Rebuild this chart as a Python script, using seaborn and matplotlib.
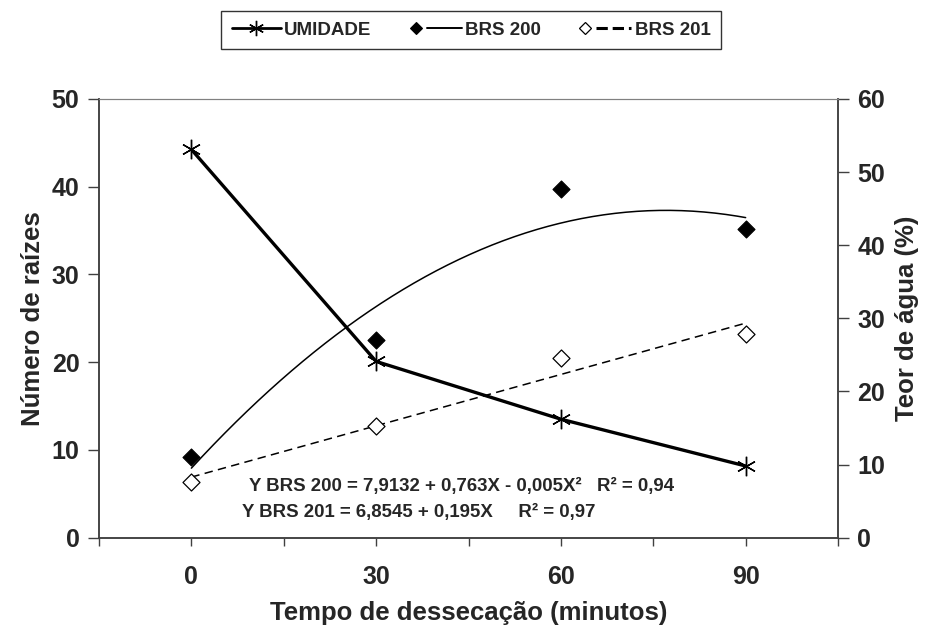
import numpy as np
import pandas as pd
import matplotlib
matplotlib.use("Agg")
import matplotlib.pyplot as plt
import seaborn as sns
from matplotlib.lines import Line2D
from matplotlib.legend_handler import HandlerBase

# ---- data ----
tempo = [0, 30, 60, 90]
umidade = [53.1, 24.1, 16.2, 9.8]          # right axis, Teor de água (%)
brs200 = [9.2, 22.5, 39.7, 35.2]           # left axis, Número de raízes
brs201 = [6.3, 12.7, 20.5, 23.2]
xticks = [0, 30, 60, 90]
eq200 = "Y BRS 200 = 7,9132 + 0,763X - 0,005X²   R² = 0,94"
eq201 = "Y BRS 201 = 6,8545 + 0,195X     R² = 0,97"

sns.set_style("white")
plt.rcParams["font.family"] = ["Liberation Sans", "DejaVu Sans"]
plt.rcParams["font.weight"] = "bold"

fig = plt.figure(figsize=(9.26, 6.37), dpi=100)
ax = fig.add_axes([0.1069, 0.156, 0.7981, 0.6886])
ax2 = ax.twinx()

df = pd.DataFrame({"tempo": tempo, "umidade": umidade,
                   "brs200": brs200, "brs201": brs201})

# trend lines fitted from the data
xs = np.linspace(0, 90, 200)
c200 = np.polyfit(tempo, brs200, 2)
c201 = np.polyfit(tempo, brs201, 1)
fit = pd.DataFrame({"x": xs, "f200": np.polyval(c200, xs), "f201": np.polyval(c201, xs)})

sns.lineplot(data=fit, x="x", y="f200", ax=ax, color="black", lw=1.1)
sns.lineplot(data=fit, x="x", y="f201", ax=ax, color="black", lw=1.1,
             linestyle=(0, (5.5, 3.5)))
sns.scatterplot(data=df, x="tempo", y="brs200", ax=ax, marker="D", s=75,
                color="black", edgecolor="black", linewidth=0.8, zorder=5)
sns.scatterplot(data=df, x="tempo", y="brs201", ax=ax, marker="D", s=75,
                facecolor="white", edgecolor="black", linewidth=0.9, zorder=5)
sns.lineplot(data=df, x="tempo", y="umidade", ax=ax2, color="black", lw=2.4,
             marker=(6, 2, 0), markersize=14, markeredgewidth=1.0,
             markeredgecolor="black")

ax.set_xlim(-15, 105)
ax.set_ylim(0, 50)
ax2.set_ylim(0, 60)
ax.set_xticks(xticks)
ax.set_xticks([-15, 15, 45, 75, 105], minor=True)
ax.set_yticks(range(0, 51, 10))
ax2.set_yticks(range(0, 61, 10))

for a in (ax, ax2):
    for s in a.spines.values():
        s.set_color("#404040")
        s.set_linewidth(1.1)
    a.spines["top"].set_color("#808080")
    a.spines["top"].set_linewidth(0.8)
ax.tick_params(axis="x", which="both", direction="out", length=6, width=1,
               color="#404040", labelsize=18, pad=14, bottom=True)
ax.tick_params(axis="y", direction="out", length=8, width=1, color="#404040",
               labelsize=18, pad=6, left=True)
ax2.tick_params(axis="y", direction="out", length=8, width=1, color="#404040",
                labelsize=18, pad=6, right=True)
for lab in ax.get_xticklabels() + ax.get_yticklabels() + ax2.get_yticklabels():
    lab.set_fontweight("bold")

ax.set_xlabel("Tempo de dessecação (minutos)", fontsize=18.5, fontweight="bold", labelpad=8)
ax.set_ylabel("Número de raízes", fontsize=18.5, fontweight="bold", labelpad=5)
ax2.set_ylabel("Teor de água (%)", fontsize=18.5, fontweight="bold", labelpad=7)

ax.text(9.4, 5.8, eq200, fontsize=13.4, fontweight="bold", va="center", ha="left")
ax.text(8.3, 2.9, eq201, fontsize=13.4, fontweight="bold", va="center", ha="left")


class MarkerLineHandler(HandlerBase):
    def create_artists(self, legend, orig_handle, xdescent, ydescent, width,
                       height, fontsize, trans):
        mk, ln = orig_handle
        y = height / 2 - ydescent
        m = Line2D([width * 0.06], [y], marker=mk.get_marker(), markersize=mk.get_markersize(),
                   markerfacecolor=mk.get_markerfacecolor(), markeredgecolor="black",
                   markeredgewidth=mk.get_markeredgewidth(), linestyle="none", transform=trans)
        l = Line2D([width * 0.28 - xdescent, width - xdescent], [y, y], color="black",
                   lw=ln.get_linewidth(), linestyle=ln.get_linestyle(), transform=trans)
        return [m, l]


h_um = Line2D([], [], color="black", lw=2.0, marker=(6, 2, 0), markersize=11,
              markeredgewidth=1.0)
h200 = (Line2D([], [], marker="D", markersize=6, markerfacecolor="black",
               markeredgewidth=0.8, linestyle="none"),
        Line2D([], [], color="black", lw=1.4))
h201 = (Line2D([], [], marker="D", markersize=6, markerfacecolor="white",
               markeredgewidth=0.9, linestyle="none"),
        Line2D([], [], color="black", lw=2.2, linestyle=(0, (3.5, 2.5))))
leg = fig.legend([h_um, h200, h201], ["UMIDADE", "BRS 200", "BRS 201"],
                 handler_map={tuple: MarkerLineHandler()},
                 loc="center", bbox_to_anchor=(0.509, 0.953), ncol=3,
                 frameon=True, fancybox=False, edgecolor="black",
                 prop={"weight": "bold", "size": 13.5}, handlelength=2.6,
                 handletextpad=0.2, columnspacing=2.2, borderpad=0.55,
                 borderaxespad=0.0)
leg.get_frame().set_linewidth(1.0)

fig.savefig("out.png", dpi=100)
